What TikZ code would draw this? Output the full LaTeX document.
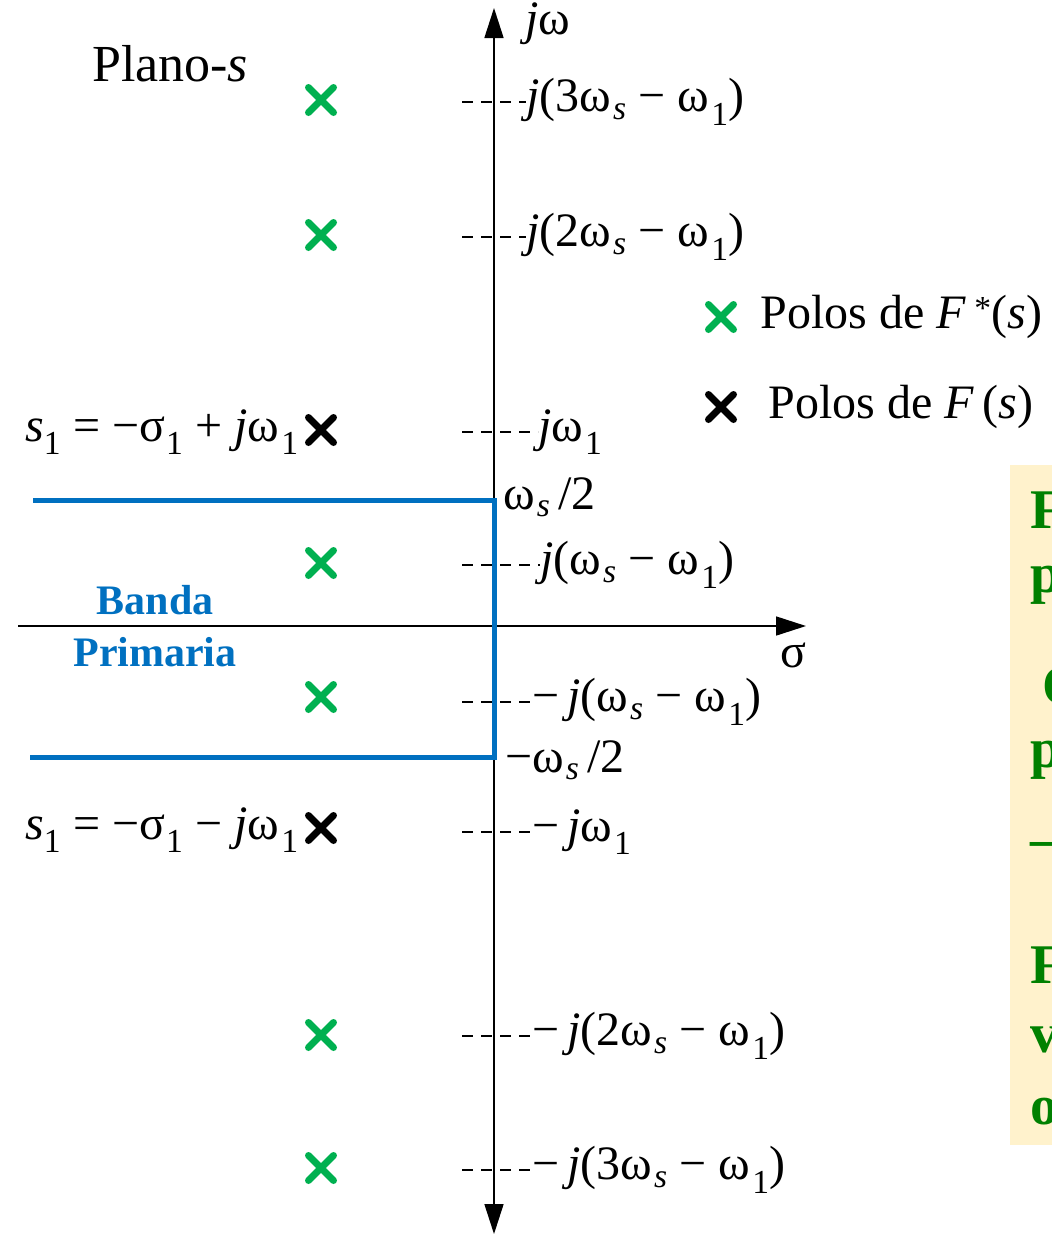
\documentclass[tikz,border=0pt]{standalone}
\usepackage{fontspec}
\setmainfont{Liberation Serif}
\usetikzlibrary{arrows.meta, shapes.misc, positioning}
\definecolor{polgreen}{HTML}{00B050}
\definecolor{bandblue}{HTML}{0070C0}
\definecolor{notefill}{HTML}{FFF2CC}
\definecolor{notegreen}{HTML}{008000}
\newcommand{\wsub}[1]{ω\kern2pt\textsubscript{#1}}

\begin{document}
\begin{tikzpicture}[x=1pt, y=-1pt,
    lbl/.style={anchor=west, inner sep=0pt, font=\fontsize{48}{52}\selectfont},
    pole/.style={cross out, draw=#1, line width=7pt, line cap=round,
      minimum size=18pt, inner sep=0pt},
    tickline/.style={line width=1.3pt, dash pattern=on 11pt off 8pt},
    axis/.style={line width=1.6pt},
    band/.style={bandblue, line width=5pt},
    note/.style={anchor=west, inner sep=0pt, text=notegreen,
      font=\fontsize{56}{60}\selectfont\bfseries},
    >={Triangle[length=30pt, width=19pt]}]
  \useasboundingbox (0,0) rectangle (1052,1235);

  % note box on the right, cut by the page edge
  \fill[notefill] (1010,465) rectangle (1070,1145);
  \foreach \n/\yy/\xx/\ltr in {n1/510/1030/F, n2/585/1030/p, n3/686/1042/O,
      n4/760/1030/p, n5/850/1030/—, n6/965/1030/F, n7/1040/1030/v, n8/1112/1030/o}
    \node[note] (\n) at (\xx,\yy) {\ltr};

  % axes
  \coordinate (xl) at (18,626);
  \coordinate (xr) at (806,626);
  \coordinate (yb) at (494,1234);
  \coordinate (yt) at (494,8);
  \draw[axis, ->] (xl) -- (xr);
  \draw[axis, <->] (yb) -- (yt);
  \node[lbl, anchor=center] (jw) at (548,24) {\textit{j}ω};
  \node[lbl, anchor=center] (sg) at (793,655) {σ};

  % primary band
  \coordinate (b1) at (33,500);
  \coordinate (b2) at (494,500);
  \coordinate (b3) at (494,757);
  \coordinate (b4) at (30,757);
  \draw[band] (b1) -- (b2) -- (b3) -- (b4);
  \node[align=center, text=bandblue, inner sep=0pt,
    font=\fontsize{42}{52}\selectfont\bfseries] (banda) at (155,626) {Banda\\Primaria};
  \node[lbl] (wsp) at (503,497) {\wsub{\textit{s}}\,/2};
  \node[lbl] (wsn) at (505,760) {−\wsub{\textit{s}}\,/2};

  % tick marks and labels on the imaginary axis
  \foreach \n/\yy/\xx/\txt in {
      t1/102/526/{\textit{j}(3\wsub{\textit{s}}~−~\wsub{1})},
      t2/237/526/{\textit{j}(2\wsub{\textit{s}}~−~\wsub{1})},
      t3/432/538/{\textit{j}\wsub{1}},
      t4/565/540/{\textit{j}(\wsub{\textit{s}}~−~\wsub{1})},
      t5/702/532/{−\,\textit{j}(\wsub{\textit{s}}~−~\wsub{1})},
      t6/832/532/{−\,\textit{j}\wsub{1}},
      t7/1036/532/{−\,\textit{j}(2\wsub{\textit{s}}~−~\wsub{1})},
      t8/1170/532/{−\,\textit{j}(3\wsub{\textit{s}}~−~\wsub{1})}}
  {
    \node[lbl] (\n) at (\xx,\yy) {\txt};
    \coordinate (\n d) at (462,\yy);
    \draw[tickline] (\n d) -- (\n.west);
  }

  % poles
  \foreach \yy [count=\i] in {100,235,563,697,1035,1168}
    \node[pole=polgreen] (g\i) at (321,\yy) {};
  \node[pole=black] (k1) at (321,430) {};
  \node[pole=black] (k2) at (321,828) {};
  \node[lbl, anchor=east] (s1a) at (299,432)
    {\textit{s}\textsubscript{1} = −σ\kern1pt\textsubscript{1} + \textit{j}\wsub{1}};
  \node[lbl, anchor=east] (s1b) at (299,830)
    {\textit{s}\textsubscript{1} = −σ\kern1pt\textsubscript{1} − \textit{j}\wsub{1}};

  \node[lbl, font=\fontsize{52}{56}\selectfont] (plano) at (92,64) {Plano-\textit{s}};

  % legend
  \node[pole=polgreen] (lg) at (721,317) {};
  \node[lbl, right=27pt of lg] (lgt) {Polos de \textit{F}\,\textsuperscript{*}(\textit{s})};
  \node[pole=black] (lk) at (721,407) {};
  \node[lbl, right=35pt of lk] (lkt) {Polos de \textit{F}\,(\textit{s})};
\end{tikzpicture}
\end{document}
